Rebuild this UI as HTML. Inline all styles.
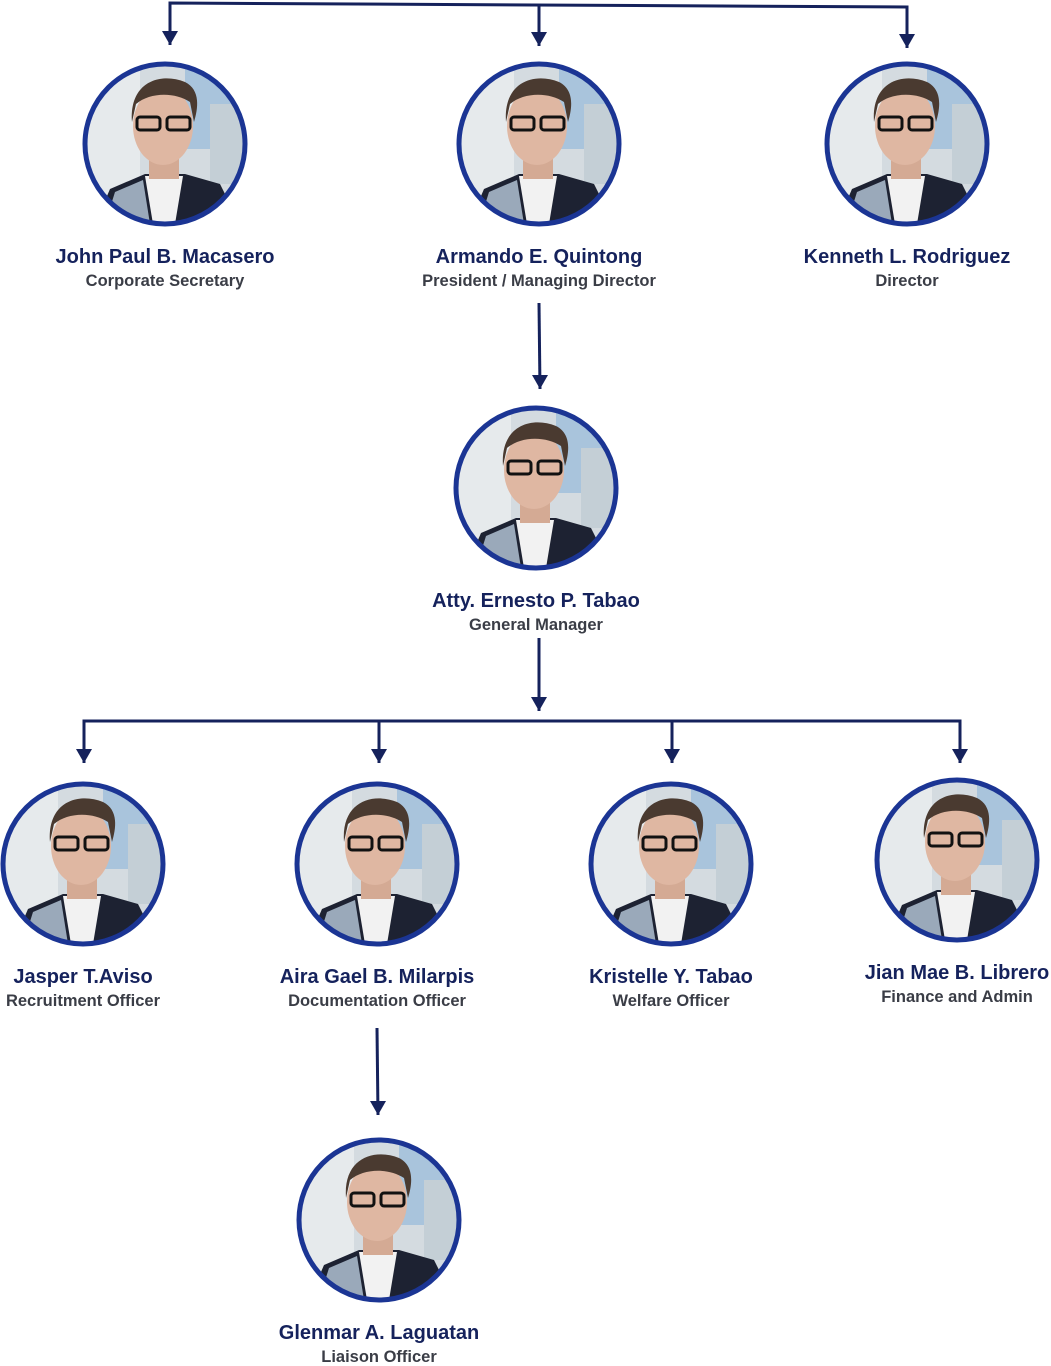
<!DOCTYPE html>
<html><head><meta charset="utf-8"><style>
html,body{margin:0;padding:0;background:#fff;}
svg{display:block}
text{font-family:"Liberation Sans",sans-serif;text-anchor:middle}
.n{font-size:20px;font-weight:bold;fill:#15225c}
.t{font-size:16.5px;font-weight:bold;fill:#3a3d46}
</style></head><body>
<svg width="1051" height="1366" viewBox="0 0 1051 1366" xmlns="http://www.w3.org/2000/svg">
<defs>
<marker id="a" markerWidth="16" markerHeight="14" refX="8" refY="14" orient="0" markerUnits="userSpaceOnUse">
<path d="M0,0 L16,0 L8,14 Z" fill="#15225c"/></marker>
<clipPath id="c"><circle cx="0" cy="0" r="80"/></clipPath>
<g id="p">
<g clip-path="url(#c)">
<rect x="-85" y="-85" width="170" height="170" fill="#d4dbe0"/>
<rect x="-85" y="-85" width="60" height="170" fill="#e6eaec"/>
<rect x="20" y="-85" width="65" height="90" fill="#a9c4dc"/>
<rect x="45" y="-40" width="40" height="80" fill="#c4cfd6"/>
<path d="M-70,80 L-55,45 L-20,30 L20,30 L55,40 L75,80 Z" fill="#1d2232"/>
<path d="M-60,80 L-50,48 L-22,36 L-15,80 Z" fill="#9aa9ba"/>
<path d="M-20,32 L18,32 L10,80 L-12,80 Z" fill="#f2f2f2"/>
<rect x="-16" y="5" width="30" height="30" fill="#d4aa94"/>
<ellipse cx="-2" cy="-18" rx="30" ry="39" fill="#dfb7a2"/>
<path d="M-33,-22 C-36,-62 -5,-72 20,-62 C36,-54 33,-35 29,-22 L25,-42 C10,-52 -15,-52 -29,-40 Z" fill="#4a3a30"/>
<rect x="-28" y="-27" width="23" height="13" rx="3" fill="none" stroke="#111" stroke-width="3"/>
<rect x="2" y="-27" width="23" height="13" rx="3" fill="none" stroke="#111" stroke-width="3"/>
</g>
<circle cx="0" cy="0" r="80" fill="none" stroke="#1b3594" stroke-width="5"/>
</g>
</defs>
<g stroke="#15225c" stroke-width="3" fill="none">
<path d="M170,45 L170,3 L907,7 L907,48" marker-end="url(#a)"/>
<path d="M170,3 L170,45" marker-end="url(#a)"/>
<path d="M539,5 L539,46" marker-end="url(#a)"/>
<path d="M539,303 L540,389" marker-end="url(#a)"/>
<path d="M539,638 L539,711" marker-end="url(#a)"/>
<path d="M84,763 L84,721 L960,721 L960,763" marker-end="url(#a)"/>
<path d="M84,721 L84,763" marker-end="url(#a)"/>
<path d="M379,721 L379,763" marker-end="url(#a)"/>
<path d="M672,721 L672,763" marker-end="url(#a)"/>
<path d="M377,1028 L378,1115" marker-end="url(#a)"/>
</g>
<use href="#p" x="165" y="144"/>
<use href="#p" x="539" y="144"/>
<use href="#p" x="907" y="144"/>
<use href="#p" x="536" y="488"/>
<use href="#p" x="83" y="864"/>
<use href="#p" x="377" y="864"/>
<use href="#p" x="671" y="864"/>
<use href="#p" x="957" y="860"/>
<use href="#p" x="379" y="1220"/>
<text class="n" x="165" y="263">John Paul B. Macasero</text><text class="t" x="165" y="286">Corporate Secretary</text>
<text class="n" x="539" y="263">Armando E. Quintong</text><text class="t" x="539" y="286">President / Managing Director</text>
<text class="n" x="907" y="263">Kenneth L. Rodriguez</text><text class="t" x="907" y="286">Director</text>
<text class="n" x="536" y="607">Atty. Ernesto P. Tabao</text><text class="t" x="536" y="630">General Manager</text>
<text class="n" x="83" y="983">Jasper T.Aviso</text><text class="t" x="83" y="1006">Recruitment Officer</text>
<text class="n" x="377" y="983">Aira Gael  B. Milarpis</text><text class="t" x="377" y="1006">Documentation Officer</text>
<text class="n" x="671" y="983">Kristelle Y. Tabao</text><text class="t" x="671" y="1006">Welfare Officer</text>
<text class="n" x="957" y="979">Jian Mae B. Librero</text><text class="t" x="957" y="1002">Finance and Admin</text>
<text class="n" x="379" y="1339">Glenmar A. Laguatan</text><text class="t" x="379" y="1362">Liaison Officer</text>
</svg>
</body></html>
